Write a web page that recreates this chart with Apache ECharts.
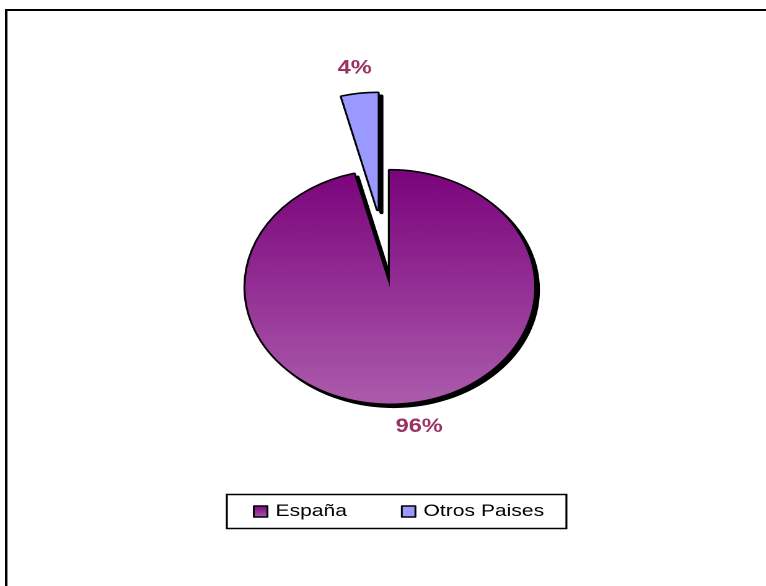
<!DOCTYPE html>
<html>
<head>
<meta charset="utf-8">
<script src="https://cdn.jsdelivr.net/npm/echarts@6/dist/echarts.min.js"></script>
<style>
  html, body { margin: 0; padding: 0; background: #fff; overflow: hidden; }
  #wrap { width: 766px; height: 586px; overflow: hidden; }
  #chart { width: 618px; height: 586px; transform: scaleX(1.2395); transform-origin: 0 0; }
</style>
</head>
<body>
<div id="wrap"><div id="chart"></div></div>
<script>
const categories = ['España', 'Otros Paises'];
const values = [96, 4];
const sliceColors = [
  new echarts.graphic.LinearGradient(0, 0, 0, 1, [
    { offset: 0, color: '#7A037C' },
    { offset: 1, color: '#AC5CAC' }
  ]),
  '#9999FF'
];
const explodedIndex = 1;

const chart = echarts.init(document.getElementById('chart'), null, { renderer: 'canvas', devicePixelRatio: 2 });

const seriesData = categories.map((name, i) => ({
  name: name,
  value: values[i],
  selected: i === explodedIndex,
  itemStyle: { color: sliceColors[i] },
  labelLine: i === explodedIndex ? { length: 26, length2: 0 } : { length: 24.5, length2: 0 },
  label: { distanceToLabelLine: -13 }
}));

chart.setOption({
  animation: false,
  backgroundColor: '#ffffff',
  graphic: [{
    type: 'rect',
    shape: { x: 5, y: 10, width: 800, height: 800 },
    style: { fill: 'none', stroke: '#000', lineWidth: 2 },
    silent: true
  }],
  legend: {
    left: 183,
    top: 494.5,
    orient: 'horizontal',
    padding: [8, 18, 8, 21],
    itemGap: 43.5,
    itemWidth: 11,
    itemHeight: 11,
    itemStyle: { borderColor: '#000', borderWidth: 1.5, shadowBlur: 0, shadowOffsetX: 0, shadowOffsetY: 0, shadowColor: 'transparent' },
    borderColor: '#000',
    borderWidth: 1.6,
    icon: 'rect',
    selectedMode: false,
    textStyle: { fontFamily: 'Arial, "Liberation Sans", sans-serif', fontSize: 17, color: '#000', lineHeight: 18, padding: [0, 0, 0, 1.5] },
    data: categories
  },
  series: [{
    type: 'pie',
    center: [314.5, 287],
    radius: 116.5,
    startAngle: 90,
    clockwise: true,
    selectedMode: 'single',
    selectedOffset: 78,
    avoidLabelOverlap: false,
    itemStyle: {
      borderColor: '#000',
      borderWidth: 3.2,
      shadowColor: '#000',
      shadowBlur: 0,
      shadowOffsetX: 3,
      shadowOffsetY: 3
    },
    label: {
      show: true,
      position: 'outside',
      formatter: '{d}%',
      color: '#993366',
      fontWeight: 'bold',
      fontSize: 19,
      fontFamily: 'Arial, "Liberation Sans", sans-serif'
    },
    labelLine: { show: false },
    emphasis: { disabled: true },
    data: seriesData
  }]
});

// Draw each slice's outline before its fill so the drop shadow only shows outside the slice (as in the reference).
try {
  const data = chart.getModel().getSeriesByIndex(0).getData();
  data.eachItemGraphicEl(function (el) {
    if (el && el.style) { el.style.strokeFirst = true; el.markRedraw(); }
  });
  chart.getZr().refreshImmediately();
} catch (e) {}
</script>
</body>
</html>
